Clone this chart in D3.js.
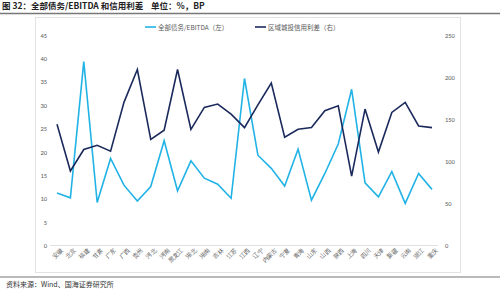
<!DOCTYPE html>
<html>
<head>
<meta charset="utf-8">
<script src="https://cdn.jsdelivr.net/npm/d3@7"></script>
<style>
body { margin: 0; background: #fff; }
svg { font-family: "Noto Sans CJK SC", "Noto Sans", sans-serif; }
</style>
</head>
<body>
<script>
var provinces = ["安徽", "北京", "福建", "甘肃", "广东", "广西", "贵州", "河北", "河南", "黑龙江",
    "湖北", "湖南", "吉林", "江苏", "江西", "辽宁", "内蒙古", "宁夏", "青海", "山东",
    "山西", "陕西", "上海", "四川", "天津", "新疆", "云南", "浙江", "重庆"];
var debtEbitda = [11.2, 10.2, 39.3, 9.2, 18.6, 12.9, 9.5, 12.6, 22.4, 11.7,
    18.1, 14.4, 13.1, 10.1, 35.7, 19.3, 16.5, 12.7, 20.6, 9.7,
    15.4, 21.7, 33.4, 13.4, 10.4, 15.8, 9.0, 15.4, 12.0];
var spread = [144, 88.5, 114, 119, 112, 170, 209, 126, 137, 209,
    138, 164, 168, 156, 140, 167, 193, 128.5, 138, 140,
    160, 166, 82.5, 162, 111, 158, 170, 142, 140];
var leftTicks = [0, 5, 10, 15, 20, 25, 30, 35, 40, 45];
var rightTicks = [0, 50, 100, 150, 200, 250];

var svg = d3.select("body").append("svg").attr("width", 500).attr("height", 295);

// title
svg.append("text").attr("x", 2).attr("y", 9)
    .attr("font-size", "8.5px").attr("font-weight", "bold").attr("fill", "#222")
    .style("white-space", "pre")
    .text("图 32：全部债务/EBITDA 和信用利差    单位：%，BP");
svg.append("line").attr("x1", 0).attr("x2", 500).attr("y1", 13.5).attr("y2", 13.5)
    .attr("stroke", "#777").attr("stroke-width", 1.5);

// chart box
svg.append("rect").attr("x", 35.5).attr("y", 17.5).attr("width", 425).attr("height", 255)
    .attr("fill", "none").attr("stroke", "#e2e2e2");

var x = d3.scalePoint().domain(provinces).range([57, 432]);
var yL = d3.scaleLinear().domain([0, 45]).range([245.5, 35]);
var yR = d3.scaleLinear().domain([0, 250]).range([245.5, 35]);

// baseline
svg.append("line").attr("x1", 50).attr("x2", 438).attr("y1", yL(0)).attr("y2", yL(0))
    .attr("stroke", "#e0e0e0");

var axL = svg.append("g").attr("transform", "translate(47,0)")
    .call(d3.axisLeft(yL).tickValues(leftTicks).tickSize(0).tickPadding(0));
var axR = svg.append("g").attr("transform", "translate(445,0)")
    .call(d3.axisRight(yR).tickValues(rightTicks).tickSize(0).tickPadding(0));
[axL, axR].forEach(function (g) {
    g.select(".domain").remove();
    g.selectAll("text").attr("font-size", "6.5px").attr("fill", "#595959")
        .attr("font-family", "Calibri, Carlito, 'Liberation Sans', sans-serif");
});

var axX = svg.append("g").attr("transform", "translate(0,248)")
    .call(d3.axisBottom(x).tickSize(0).tickPadding(0));
axX.select(".domain").remove();
axX.selectAll("text")
    .attr("font-size", "6px").attr("fill", "#595959")
    .attr("text-anchor", "end")
    .attr("dy", "0.6em")
    .attr("transform", "translate(3,0) rotate(-45)");

var lineL = d3.line().x(function (d, i) { return x(provinces[i]); }).y(function (d) { return yL(d); });
var lineR = d3.line().x(function (d, i) { return x(provinces[i]); }).y(function (d) { return yR(d); });

svg.append("path").datum(debtEbitda).attr("d", lineL)
    .attr("fill", "none").attr("stroke", "#22b3e6").attr("stroke-width", 1.6);
svg.append("path").datum(spread).attr("d", lineR)
    .attr("fill", "none").attr("stroke", "#1b2a5c").attr("stroke-width", 1.6);

// legend
var legend = [
    {name: "全部债务/EBITDA（左）", color: "#22b3e6", x: 145},
    {name: "区域城投信用利差（右）", color: "#1b2a5c", x: 255}
];
var lg = svg.selectAll(".lg").data(legend).enter().append("g")
    .attr("transform", function (d) { return "translate(" + d.x + ",27)"; });
lg.append("line").attr("x1", 0).attr("x2", 11).attr("y1", 0).attr("y2", 0)
    .attr("stroke", function (d) { return d.color; }).attr("stroke-width", 1.6);
lg.append("text").attr("x", 13).attr("y", 2.5).attr("font-size", "6.5px").attr("fill", "#595959")
    .text(function (d) { return d.name; });

// footer
svg.append("line").attr("x1", 0).attr("x2", 500).attr("y1", 277).attr("y2", 277)
    .attr("stroke", "#777").attr("stroke-width", 1.2);
svg.append("text").attr("x", 6).attr("y", 287)
    .attr("font-size", "7px").attr("fill", "#333")
    .text("资料来源：Wind、国海证券研究所");
</script>
</body>
</html>
